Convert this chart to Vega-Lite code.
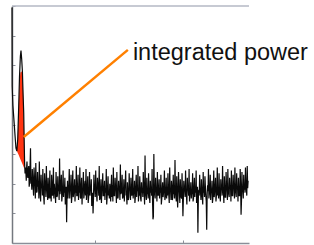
{
  "$schema": "https://vega.github.io/schema/vega-lite/v6.json",
  "width": 237,
  "height": 237,
  "autosize": {"type": "none"},
  "padding": {"left": 12, "top": 6, "right": 65, "bottom": 2},
  "background": "white",
  "config": {
    "view": {"stroke": null},
    "axisX": {"tickCount": 3, "labels": false, "grid": false, "domainColor": "#8a8e98", "domainWidth": 1.5, "tickColor": "#8a8e98", "tickSize": -3, "tickWidth": 1},
    "axisY": {"tickCount": 8, "labels": false, "grid": false, "domainColor": "#74787f", "domainWidth": 1.5, "tickColor": "#8a8e98", "tickSize": -3, "tickWidth": 1}
  },
  "datasets": {
    "spec": [
      {"f":0.6,"p":7.95},{"f":0.62,"p":5.3},{"f":0.7,"p":4.65},{"f":0.87,"p":3.95},{"f":0.95,"p":3.6},{"f":1.05,"p":3.2},{"f":1.15,"p":3.1},{"f":1.25,"p":3.5},{"f":1.36,"p":4.6},{"f":1.45,"p":5.6},{"f":1.55,"p":6.3},{"f":1.62,"p":6.5},{"f":1.7,"p":6.2},{"f":1.78,"p":5.8},{"f":1.86,"p":5.0},{"f":1.93,"p":4.4},{"f":1.98,"p":3.5},{"f":2.03,"p":2.7},{"f":2.08,"p":2.35},{"f":2.15,"p":2.55},{"f":2.22,"p":2.1},{"f":2.27,"p":2.6},
      {"f":2.3,"p":2.75},{"f":2.4,"p":2.2},{"f":2.5,"p":2.6},{"f":2.6,"p":2.05},{"f":2.7,"p":3.2},{"f":2.8,"p":2.1},{"f":2.9,"p":2.5},
      {"f":3.0,"p":1.9},{"f":3.1,"p":2.55},{"f":3.2,"p":2.0},{"f":3.3,"p":2.7},{"f":3.4,"p":1.7},{"f":3.5,"p":2.4},{"f":3.6,"p":2.1},{"f":3.7,"p":2.75},{"f":3.8,"p":1.65},{"f":3.9,"p":2.3},
      {"f":4.0,"p":2.0},{"f":4.1,"p":2.5},{"f":4.2,"p":1.55},{"f":4.3,"p":2.35},{"f":4.4,"p":1.9},{"f":4.5,"p":2.6},{"f":4.6,"p":1.75},{"f":4.7,"p":2.2},{"f":4.8,"p":1.5},{"f":4.9,"p":2.45},
      {"f":5.0,"p":1.85},{"f":5.1,"p":2.3},{"f":5.2,"p":1.6},{"f":5.3,"p":2.55},{"f":5.4,"p":2.0},{"f":5.5,"p":1.7},{"f":5.6,"p":2.4},{"f":5.7,"p":1.55},{"f":5.8,"p":2.25},{"f":5.9,"p":1.95},
      {"f":6.0,"p":2.85},{"f":6.1,"p":1.8},{"f":6.2,"p":2.3},{"f":6.3,"p":1.6},{"f":6.4,"p":2.45},{"f":6.5,"p":1.9},{"f":6.6,"p":2.2},{"f":6.7,"p":1.45},{"f":6.8,"p":0.7},{"f":6.9,"p":2.1},
      {"f":7.0,"p":1.75},{"f":7.1,"p":2.5},{"f":7.2,"p":1.85},{"f":7.3,"p":2.3},{"f":7.4,"p":1.55},{"f":7.5,"p":2.45},{"f":7.6,"p":1.7},{"f":7.7,"p":2.15},{"f":7.8,"p":1.95},{"f":7.9,"p":2.6},
      {"f":8.0,"p":1.6},{"f":8.1,"p":2.3},{"f":8.2,"p":1.9},{"f":8.3,"p":2.55},{"f":8.4,"p":1.5},{"f":8.5,"p":2.2},{"f":8.6,"p":1.8},{"f":8.7,"p":2.4},{"f":8.8,"p":1.65},{"f":8.9,"p":2.1},
      {"f":9.0,"p":2.5},{"f":9.1,"p":1.7},{"f":9.2,"p":2.25},{"f":9.3,"p":1.55},{"f":9.4,"p":2.4},{"f":9.5,"p":1.85},{"f":9.6,"p":2.15},{"f":9.7,"p":1.6},{"f":9.8,"p":1.0},{"f":9.9,"p":2.3},
      {"f":10.0,"p":1.8},{"f":10.1,"p":2.45},{"f":10.2,"p":1.65},{"f":10.3,"p":2.2},{"f":10.4,"p":1.9},{"f":10.5,"p":2.6},{"f":10.6,"p":1.5},{"f":10.7,"p":2.15},{"f":10.8,"p":1.75},{"f":10.9,"p":2.35},
      {"f":11.0,"p":1.6},{"f":11.1,"p":2.1},{"f":11.2,"p":1.85},{"f":11.3,"p":2.5},{"f":11.4,"p":1.55},{"f":11.5,"p":2.25},{"f":11.6,"p":1.7},{"f":11.7,"p":2.0},{"f":11.8,"p":1.4},{"f":11.9,"p":2.3},
      {"f":12.0,"p":1.95},{"f":12.1,"p":2.55},{"f":12.2,"p":1.6},{"f":12.3,"p":2.2},{"f":12.4,"p":1.8},{"f":12.5,"p":2.4},{"f":12.6,"p":1.5},{"f":12.7,"p":2.1},{"f":12.8,"p":1.85},{"f":12.9,"p":2.65},
      {"f":13.0,"p":1.7},{"f":13.1,"p":2.3},{"f":13.2,"p":1.55},{"f":13.3,"p":2.15},{"f":13.4,"p":1.9},{"f":13.5,"p":2.45},{"f":13.6,"p":1.65},{"f":13.7,"p":2.05},{"f":13.8,"p":1.45},{"f":13.9,"p":2.35},
      {"f":14.0,"p":1.8},{"f":14.1,"p":2.2},{"f":14.2,"p":1.6},{"f":14.3,"p":2.5},{"f":14.4,"p":1.75},{"f":14.5,"p":2.1},{"f":14.6,"p":1.55},{"f":14.7,"p":2.3},{"f":14.8,"p":1.9},{"f":14.9,"p":2.6},
      {"f":15.0,"p":1.65},{"f":15.1,"p":2.25},{"f":15.2,"p":1.5},{"f":15.3,"p":2.05},{"f":15.4,"p":1.85},{"f":15.5,"p":2.4},{"f":15.6,"p":1.7},{"f":15.7,"p":2.95},{"f":15.8,"p":1.6},{"f":15.9,"p":2.2},
      {"f":16.0,"p":1.8},{"f":16.1,"p":2.35},{"f":16.2,"p":1.55},{"f":16.3,"p":2.1},{"f":16.4,"p":1.9},{"f":16.5,"p":2.5},{"f":16.6,"p":0.8},{"f":16.7,"p":3.0},{"f":16.8,"p":1.65},{"f":16.9,"p":2.2},
      {"f":17.0,"p":1.75},{"f":17.1,"p":2.4},{"f":17.2,"p":1.6},{"f":17.3,"p":2.15},{"f":17.4,"p":1.85},{"f":17.5,"p":2.3},{"f":17.6,"p":1.5},{"f":17.7,"p":2.05},{"f":17.8,"p":1.7},{"f":17.9,"p":2.45},
      {"f":18.0,"p":1.55},{"f":18.1,"p":2.2},{"f":18.2,"p":1.9},{"f":18.3,"p":2.35},{"f":18.4,"p":1.6},{"f":18.5,"p":2.55},{"f":18.6,"p":1.75},{"f":18.7,"p":2.1},{"f":18.8,"p":1.45},{"f":18.9,"p":2.3},
      {"f":19.0,"p":1.85},{"f":19.1,"p":2.8},{"f":19.2,"p":1.6},{"f":19.3,"p":2.25},{"f":19.4,"p":1.2},{"f":19.5,"p":2.4},{"f":19.6,"p":1.7},{"f":19.7,"p":2.15},{"f":19.8,"p":1.55},{"f":19.9,"p":2.35},
      {"f":20.0,"p":0.9},{"f":20.1,"p":2.1},{"f":20.2,"p":1.8},{"f":20.3,"p":2.45},{"f":20.4,"p":1.6},{"f":20.5,"p":2.2},{"f":20.6,"p":1.85},{"f":20.7,"p":2.5},{"f":20.8,"p":1.65},{"f":20.9,"p":2.05},
      {"f":21.0,"p":1.75},{"f":21.1,"p":2.35},{"f":21.2,"p":1.5},{"f":21.3,"p":2.2},{"f":21.4,"p":1.9},{"f":21.5,"p":2.45},{"f":21.6,"p":1.6},{"f":21.7,"p":0.35},{"f":21.8,"p":1.8},{"f":21.9,"p":2.3},
      {"f":22.0,"p":1.7},{"f":22.1,"p":2.15},{"f":22.2,"p":1.55},{"f":22.3,"p":2.4},{"f":22.4,"p":1.85},{"f":22.5,"p":2.25},{"f":22.6,"p":1.6},{"f":22.7,"p":0.45},{"f":22.8,"p":1.95},{"f":22.9,"p":2.5},
      {"f":23.0,"p":1.65},{"f":23.1,"p":2.3},{"f":23.2,"p":1.8},{"f":23.3,"p":2.1},{"f":23.4,"p":1.5},{"f":23.5,"p":2.45},{"f":23.6,"p":1.75},{"f":23.7,"p":2.2},{"f":23.8,"p":1.6},{"f":23.9,"p":2.55},
      {"f":24.0,"p":1.85},{"f":24.1,"p":2.35},{"f":24.2,"p":1.6},{"f":24.3,"p":2.15},{"f":24.4,"p":1.9},{"f":24.5,"p":2.6},{"f":24.6,"p":1.7},{"f":24.7,"p":2.25},{"f":24.8,"p":1.55},{"f":24.9,"p":2.4},
      {"f":25.0,"p":1.8},{"f":25.1,"p":2.5},{"f":25.2,"p":1.65},{"f":25.3,"p":2.2},{"f":25.4,"p":1.95},{"f":25.5,"p":2.45},{"f":25.6,"p":1.6},{"f":25.7,"p":2.3},{"f":25.8,"p":1.85},{"f":25.9,"p":2.55},
      {"f":26.0,"p":1.7},{"f":26.1,"p":2.35},{"f":26.2,"p":1.9},{"f":26.3,"p":2.2},{"f":26.4,"p":1.6},{"f":26.5,"p":2.5},{"f":26.6,"p":0.95},{"f":26.7,"p":2.4},{"f":26.8,"p":1.75},{"f":26.9,"p":2.3},
      {"f":27.0,"p":1.9},{"f":27.1,"p":2.55},{"f":27.2,"p":1.8},{"f":27.3,"p":2.6},{"f":27.4,"p":2.1},
      {"f":2.35,"p":2.3},{"f":2.45,"p":2.5},{"f":2.55,"p":1.9},{"f":2.65,"p":2.6},{"f":2.75,"p":2.0},{"f":2.85,"p":1.8},{"f":2.95,"p":2.2},
      {"f":3.05,"p":1.6},{"f":3.15,"p":2.2},{"f":3.25,"p":1.5},{"f":3.35,"p":2.0},{"f":3.45,"p":1.75},{"f":3.55,"p":1.9},{"f":3.65,"p":1.5},{"f":3.75,"p":2.05},{"f":3.85,"p":1.4},{"f":3.95,"p":1.85},
      {"f":4.05,"p":1.6},{"f":4.15,"p":1.8},{"f":4.25,"p":1.3},{"f":4.35,"p":2.0},{"f":4.45,"p":1.55},{"f":4.55,"p":1.95},{"f":4.65,"p":1.45},{"f":4.75,"p":1.7},{"f":4.85,"p":1.85},{"f":4.95,"p":1.5},
      {"f":5.05,"p":1.4},{"f":5.15,"p":1.95},{"f":5.25,"p":1.7},{"f":5.35,"p":1.5},{"f":5.45,"p":1.8},{"f":5.55,"p":1.35},{"f":5.65,"p":1.9},{"f":5.75,"p":1.6},{"f":5.85,"p":1.75},{"f":5.95,"p":1.45},
      {"f":6.05,"p":1.65},{"f":6.15,"p":2.0},{"f":6.25,"p":1.4},{"f":6.35,"p":1.8},{"f":6.45,"p":1.55},{"f":6.55,"p":1.7},{"f":6.65,"p":1.3},{"f":6.75,"p":1.9},{"f":6.85,"p":1.6},{"f":6.95,"p":1.5},
      {"f":7.05,"p":1.9},{"f":7.15,"p":1.5},{"f":7.25,"p":1.75},{"f":7.35,"p":1.35},{"f":7.45,"p":1.95},{"f":7.55,"p":1.55},{"f":7.65,"p":1.8},{"f":7.75,"p":1.4},{"f":7.85,"p":1.7},{"f":7.95,"p":1.6},
      {"f":8.05,"p":1.85},{"f":8.15,"p":1.45},{"f":8.25,"p":1.7},{"f":8.35,"p":1.55},{"f":8.45,"p":1.9},{"f":8.55,"p":1.3},{"f":8.65,"p":1.75},{"f":8.75,"p":1.5},{"f":8.85,"p":1.95},{"f":8.95,"p":1.6},
      {"f":9.05,"p":1.45},{"f":9.15,"p":1.9},{"f":9.25,"p":1.35},{"f":9.35,"p":1.75},{"f":9.45,"p":1.6},{"f":9.55,"p":1.8},{"f":9.65,"p":1.25},{"f":9.75,"p":1.7},{"f":9.85,"p":1.5},{"f":9.95,"p":1.85},
      {"f":10.05,"p":1.55},{"f":10.15,"p":1.8},{"f":10.25,"p":1.4},{"f":10.35,"p":1.95},{"f":10.45,"p":1.6},{"f":10.55,"p":1.45},{"f":10.65,"p":1.75},{"f":10.75,"p":1.35},{"f":10.85,"p":1.9},{"f":10.95,"p":1.6},
      {"f":11.05,"p":1.8},{"f":11.15,"p":1.45},{"f":11.25,"p":1.7},{"f":11.35,"p":1.3},{"f":11.45,"p":1.85},{"f":11.55,"p":1.6},{"f":11.65,"p":1.5},{"f":11.75,"p":1.75},{"f":11.85,"p":1.9},{"f":11.95,"p":1.55},
      {"f":12.05,"p":1.4},{"f":12.15,"p":1.75},{"f":12.25,"p":1.6},{"f":12.35,"p":1.9},{"f":12.45,"p":1.35},{"f":12.55,"p":1.7},{"f":12.65,"p":1.55},{"f":12.75,"p":1.8},{"f":12.85,"p":1.45},{"f":12.95,"p":1.65},
      {"f":13.05,"p":1.85},{"f":13.15,"p":1.5},{"f":13.25,"p":1.7},{"f":13.35,"p":1.4},{"f":13.45,"p":1.95},{"f":13.55,"p":1.6},{"f":13.65,"p":1.3},{"f":13.75,"p":1.75},{"f":13.85,"p":1.55},{"f":13.95,"p":1.8},
      {"f":14.05,"p":1.45},{"f":14.15,"p":1.7},{"f":14.25,"p":1.85},{"f":14.35,"p":1.5},{"f":14.45,"p":1.65},{"f":14.55,"p":1.35},{"f":14.65,"p":1.9},{"f":14.75,"p":1.55},{"f":14.85,"p":1.75},{"f":14.95,"p":1.4},
      {"f":15.05,"p":1.6},{"f":15.15,"p":1.85},{"f":15.25,"p":1.4},{"f":15.35,"p":1.7},{"f":15.45,"p":1.55},{"f":15.55,"p":1.9},{"f":15.65,"p":1.3},{"f":15.75,"p":1.75},{"f":15.85,"p":1.45},{"f":15.95,"p":1.65},
      {"f":16.05,"p":1.5},{"f":16.15,"p":1.8},{"f":16.25,"p":1.35},{"f":16.35,"p":1.7},{"f":16.45,"p":1.6},{"f":16.55,"p":1.45},{"f":16.65,"p":0.9},{"f":16.75,"p":1.85},{"f":16.85,"p":1.5},{"f":16.95,"p":1.75},
      {"f":17.05,"p":1.4},{"f":17.15,"p":1.65},{"f":17.25,"p":1.85},{"f":17.35,"p":1.5},{"f":17.45,"p":1.7},{"f":17.55,"p":1.3},{"f":17.65,"p":1.8},{"f":17.75,"p":1.55},{"f":17.85,"p":1.9},{"f":17.95,"p":1.45},
      {"f":18.05,"p":1.7},{"f":18.15,"p":1.5},{"f":18.25,"p":1.6},{"f":18.35,"p":1.85},{"f":18.45,"p":1.35},{"f":18.55,"p":1.75},{"f":18.65,"p":1.45},{"f":18.75,"p":1.9},{"f":18.85,"p":1.55},{"f":18.95,"p":1.65},
      {"f":19.05,"p":1.5},{"f":19.15,"p":1.8},{"f":19.25,"p":1.4},{"f":19.35,"p":1.7},{"f":19.45,"p":1.6},{"f":19.55,"p":1.9},{"f":19.65,"p":1.35},{"f":19.75,"p":1.75},{"f":19.85,"p":1.5},{"f":19.95,"p":1.65},
      {"f":20.05,"p":1.45},{"f":20.15,"p":1.85},{"f":20.25,"p":1.55},{"f":20.35,"p":1.7},{"f":20.45,"p":1.3},{"f":20.55,"p":1.8},{"f":20.65,"p":1.6},{"f":20.75,"p":1.4},{"f":20.85,"p":1.75},{"f":20.95,"p":1.5},
      {"f":21.05,"p":1.65},{"f":21.15,"p":1.4},{"f":21.25,"p":1.85},{"f":21.35,"p":1.55},{"f":21.45,"p":1.7},{"f":21.55,"p":1.35},{"f":21.65,"p":1.9},{"f":21.75,"p":1.5},{"f":21.85,"p":1.6},{"f":21.95,"p":1.75},
      {"f":22.05,"p":1.45},{"f":22.15,"p":1.8},{"f":22.25,"p":1.3},{"f":22.35,"p":1.7},{"f":22.45,"p":1.55},{"f":22.55,"p":1.9},{"f":22.65,"p":1.4},{"f":22.75,"p":1.65},{"f":22.85,"p":1.75},{"f":22.95,"p":1.5},
      {"f":23.05,"p":1.85},{"f":23.15,"p":1.45},{"f":23.25,"p":1.7},{"f":23.35,"p":1.35},{"f":23.45,"p":1.8},{"f":23.55,"p":1.55},{"f":23.65,"p":1.9},{"f":23.75,"p":1.4},{"f":23.85,"p":1.75},{"f":23.95,"p":1.6},
      {"f":24.05,"p":1.5},{"f":24.15,"p":1.75},{"f":24.25,"p":1.4},{"f":24.35,"p":1.85},{"f":24.45,"p":1.6},{"f":24.55,"p":1.7},{"f":24.65,"p":1.35},{"f":24.75,"p":1.8},{"f":24.85,"p":1.55},{"f":24.95,"p":1.9},
      {"f":25.05,"p":1.45},{"f":25.15,"p":1.7},{"f":25.25,"p":1.55},{"f":25.35,"p":1.85},{"f":25.45,"p":1.4},{"f":25.55,"p":1.75},{"f":25.65,"p":1.6},{"f":25.75,"p":1.9},{"f":25.85,"p":1.5},{"f":25.95,"p":1.8},
      {"f":26.05,"p":1.55},{"f":26.15,"p":1.85},{"f":26.25,"p":1.4},{"f":26.35,"p":1.7},{"f":26.45,"p":1.6},{"f":26.55,"p":1.9},{"f":26.65,"p":1.45},{"f":26.75,"p":1.75},{"f":26.85,"p":1.5},{"f":26.95,"p":1.8},
      {"f":27.05,"p":1.7},{"f":27.15,"p":1.95},{"f":27.25,"p":1.6},{"f":27.35,"p":1.85}
    ],
    "red": [
      {"f":1.17,"p":3.2,"b":3.1},{"f":1.25,"p":3.55,"b":3.04},{"f":1.36,"p":4.55,"b":2.97},{"f":1.45,"p":5.45,"b":2.9},{"f":1.55,"p":5.75,"b":2.83},{"f":1.65,"p":5.8,"b":2.76},{"f":1.75,"p":5.75,"b":2.69},{"f":1.82,"p":5.5,"b":2.64},{"f":1.88,"p":4.9,"b":2.6},{"f":1.93,"p":4.35,"b":2.56},{"f":1.98,"p":3.5,"b":2.53},{"f":2.03,"p":2.5,"b":2.5}
    ],
    "ann": [
      {"f":1.93,"p":3.58,"f2":13.75,"p2":6.52,"label":"integrated power","tf":14.32,"tp":6.19}
    ],
    "frame": [{"p":8}]
  },
  "layer": [
    {
      "data": {"name": "red"},
      "mark": {"type": "area", "color": "#ff3412", "opacity": 1},
      "encoding": {
        "x": {"field": "f", "type": "quantitative", "title": null, "scale": {"domain": [0.6, 27.5], "nice": false, "zero": false}},
        "y": {"field": "p", "type": "quantitative", "title": null, "scale": {"domain": [0, 8], "nice": false, "zero": false}},
        "y2": {"field": "b"}
      }
    },
    {
      "data": {"name": "spec"},
      "mark": {"type": "line", "color": "#0a0a0a", "strokeWidth": 1.2},
      "encoding": {
        "x": {"field": "f", "type": "quantitative", "title": null},
        "y": {"field": "p", "type": "quantitative", "title": null}
      }
    },
    {
      "data": {"name": "frame"},
      "mark": {"type": "rule", "color": "#b4b8c4", "strokeWidth": 1.5},
      "encoding": {
        "y": {"field": "p", "type": "quantitative", "title": null}
      }
    },
    {
      "data": {"name": "ann"},
      "mark": {"type": "rule", "color": "#ff8000", "strokeWidth": 2.5},
      "encoding": {
        "x": {"field": "f", "type": "quantitative", "title": null},
        "y": {"field": "p", "type": "quantitative", "title": null},
        "x2": {"field": "f2"},
        "y2": {"field": "p2"}
      }
    },
    {
      "data": {"name": "ann"},
      "mark": {"type": "text", "font": "Liberation Sans", "fontSize": 23.5, "align": "left", "baseline": "alphabetic", "color": "#111111"},
      "encoding": {
        "x": {"field": "tf", "type": "quantitative", "title": null},
        "y": {"field": "tp", "type": "quantitative", "title": null},
        "text": {"field": "label"}
      }
    }
  ]
}
